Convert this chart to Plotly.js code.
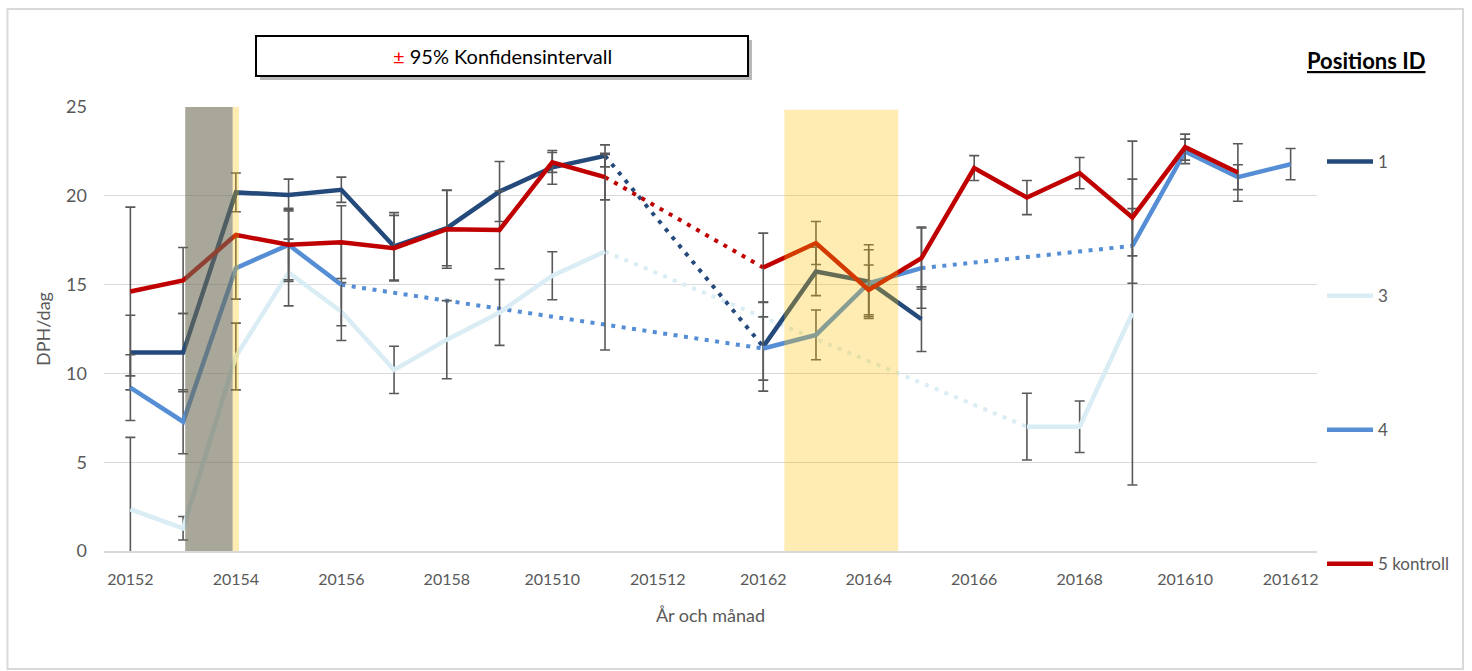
<!DOCTYPE html>
<html>
<head>
<meta charset="utf-8">
<script src="https://cdn.plot.ly/plotly-3.0.1.min.js"></script>
<style>html,body{margin:0;padding:0;background:#fff;}#chart{width:1472px;height:671px;}</style>
</head>
<body>
<div id="chart"></div>
<script>
// Months: year + month number
const categories = ["20152","20153","20154","20155","20156","20157","20158","20159","201510","201511","201512",
                    "20161","20162","20163","20164","20165","20166","20167","20168","20169","201610","201611","201612"];

const seriesNames = ["1", "3", "4", "5 kontroll"];

// Position 1
const pos1Values = [11.17,11.17,20.19,20.04,20.34,17.15,18.18,20.24,21.6,22.25,null,
                    null,11.5,15.74,15.17,13.05,null,null,null,null,null,null,null];
const pos1Ci     = [2.1,2.2,1.09,0.9,0.71,1.9,2.12,1.69,0.95,0.62,null,
                    null,2.5,1.36,2.07,1.82,null,null,null,null,null,null,null];
// Position 3
const pos3Values = [2.35,1.28,10.95,15.68,13.48,10.2,11.9,13.43,15.5,16.86,null,
                    null,null,null,null,null,null,7.0,7.0,13.4,null,null,null];
const pos3Ci     = [4.05,0.66,1.88,1.88,1.63,1.33,2.2,1.85,1.35,5.54,null,
                    null,null,null,null,null,null,1.88,1.45,9.68,null,null,null];
// Position 4
const pos4Values = [9.2,7.28,15.93,17.24,14.99,null,null,null,null,null,null,
                    null,11.4,12.17,15.08,15.93,null,null,null,17.18,22.5,21.05,21.78];
const pos4Ci     = [1.85,1.8,1.75,1.97,2.31,null,null,null,null,null,null,
                    null,1.78,1.4,1.88,2.26,null,null,null,2.1,0.69,0.7,0.88];
// Position 5 kontroll
const pos5Values = [14.61,15.23,17.8,17.24,17.39,17.05,18.12,18.08,21.88,21.05,null,
                    null,15.96,17.34,14.7,16.49,21.56,19.9,21.28,18.78,22.74,21.31,null];
const pos5Ci     = [4.75,1.86,null,2.06,2.05,1.85,2.2,2.19,0.56,1.28,null,
                    null,1.94,1.21,1.4,1.75,0.7,0.96,0.88,2.16,0.73,1.62,null];

const tickLabels = categories.filter((c, i) => i % 2 === 0);

const seriesValues = [pos1Values, pos3Values, pos4Values, pos5Values];
const seriesCi = [pos1Ci, pos3Ci, pos4Ci, pos5Ci];
const seriesColors = ["#244A7C", "#DAEDF4", "#558ED5", "#C00000"];

const FONT = "Lato, 'Open Sans', 'Liberation Sans', sans-serif";

const connectors = [];
const solids = [];
seriesValues.forEach((vals, s) => {
  const group = "g" + s;
  // dotted connectors across missing months
  let prev = -1;
  vals.forEach((v, i) => {
    if (v === null) return;
    if (prev >= 0 && i > prev + 1) {
      connectors.push({
        type: "scatter", mode: "lines",
        x: [categories[prev], categories[i]], y: [vals[prev], v],
        line: {color: seriesColors[s], width: 4, dash: "4px,6.5px"},
        showlegend: false, legendgroup: group, hoverinfo: "skip"
      });
    }
    prev = i;
  });
  solids.push({
    type: "scatter", mode: "lines", name: seriesNames[s], legendgroup: group,
    x: categories, y: vals, connectgaps: false,
    line: {color: seriesColors[s], width: 4.5},
    error_y: {type: "data", array: seriesCi[s].map(e => e === null ? NaN : e), visible: true,
              color: "#595959", thickness: 1.6, width: 5}
  });
});

const px = (p) => (p - 104) / 1213;   // paper helpers for decorations
const py = (p) => (551 - p) / 444;

const layout = {
  width: 1472, height: 671,
  margin: {l: 104, r: 155, t: 107, b: 120},
  paper_bgcolor: "#ffffff", plot_bgcolor: "#ffffff",
  font: {family: FONT, color: "#595959"},
  showlegend: true,
  legend: {x: px(1322), y: py(144), xanchor: "left", yanchor: "top",
           font: {size: 17, color: "#595959", family: FONT}, itemwidth: 46,
           tracegroupgap: 109, traceorder: "grouped", bgcolor: "rgba(0,0,0,0)"},
  xaxis: {type: "category", categoryorder: "array", categoryarray: categories,
          range: [-0.5, 22.5], tickmode: "array", tickvals: tickLabels, ticktext: tickLabels,
          showgrid: false, showline: true, linecolor: "#D9D9D9", linewidth: 1.5,
          ticks: "", ticklabelstandoff: 13, zeroline: false,
          tickfont: {size: 16, color: "#595959", family: FONT},
          title: {text: "År och månad", font: {size: 18, color: "#595959", family: FONT}, standoff: 22}},
  yaxis: {range: [0, 25], dtick: 5, tick0: 0, showgrid: true, gridcolor: "#D9D9D9", gridwidth: 1.3,
          zeroline: false, showline: false, ticks: "", ticklabelstandoff: 16,
          tickfont: {size: 18, color: "#595959", family: FONT},
          title: {text: "DPH/dag", font: {size: 18, color: "#595959", family: FONT}, standoff: 10}},
  shapes: [
    {type: "rect", xref: "paper", yref: "paper", x0: px(7.5), x1: px(1463), y0: py(669), y1: py(9),
     line: {color: "#D9D9D9", width: 2}, fillcolor: "rgba(0,0,0,0)", layer: "below"},
    {type: "rect", xref: "paper", yref: "paper", x0: px(260), x1: px(752), y0: py(80), y1: py(40),
     line: {width: 0}, fillcolor: "rgba(0,0,0,0.28)", layer: "above"},
    {type: "rect", xref: "paper", yref: "paper", x0: px(256), x1: px(748), y0: py(76), y1: py(36),
     line: {color: "#000000", width: 2}, fillcolor: "#ffffff", layer: "above"},
    {type: "rect", xref: "x", yref: "y", x0: 1.04, x1: 1.94, y0: 0, y1: 25,
     line: {width: 0}, fillcolor: "rgba(110,108,85,0.6)", layer: "above"},
    {type: "rect", xref: "x", yref: "y", x0: 1.94, x1: 2.06, y0: 0, y1: 25,
     line: {width: 0}, fillcolor: "rgba(255,192,0,0.3)", layer: "above"},
    {type: "rect", xref: "x", yref: "y", x0: 12.4, x1: 14.56, y0: 0, y1: 24.85,
     line: {width: 0}, fillcolor: "rgba(255,192,0,0.3)", layer: "above"}
  ],
  annotations: [
    {xref: "paper", yref: "paper", x: px(502), y: py(56), xanchor: "center", yanchor: "middle",
     showarrow: false, text: "<span style='color:#FF0000'>±</span> 95% Konfidensintervall",
     font: {size: 20, color: "#000000", family: FONT}},
    {xref: "paper", yref: "paper", x: px(1366), y: py(60), xanchor: "center", yanchor: "middle",
     showarrow: false, text: "<b><u>Positions ID</u></b>",
     font: {size: 22, color: "#000000", family: FONT}}
  ]
};

Plotly.newPlot("chart", connectors.concat(solids), layout, {displayModeBar: false, staticPlot: true});
</script>
</body>
</html>
